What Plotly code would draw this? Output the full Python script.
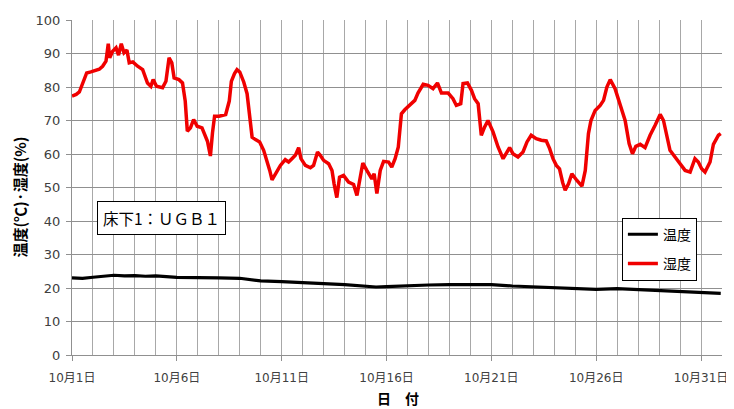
import plotly.graph_objects as go

# Day-of-month positions (Oct 1 00:00 = 1.0)
hum_days = [1.0, 1.2, 1.35, 1.5, 1.7, 1.9, 2.14, 2.3, 2.46, 2.62, 2.68, 2.73, 2.8, 2.94, 3.1, 3.22, 3.35, 3.48,
            3.62, 3.73, 3.9, 4.13, 4.37, 4.6, 4.76, 4.87, 5.03, 5.32, 5.48, 5.58, 5.63, 5.76, 5.87, 6.1, 6.27,
            6.4, 6.5, 6.65, 6.8, 6.97, 7.2, 7.46, 7.6, 7.7, 7.8, 8.02, 8.33, 8.5, 8.6, 8.75, 8.87, 9.0, 9.19,
            9.35, 9.48, 9.59, 9.75, 9.95, 10.14, 10.3, 10.43, 10.54, 10.7, 10.94, 11.17, 11.33, 11.49, 11.65,
            11.81, 11.92, 12.13, 12.37, 12.52, 12.71, 12.84, 13.0, 13.24, 13.4, 13.5, 13.63, 13.76, 13.95,
            14.19, 14.43, 14.59, 14.71, 14.87, 15.06, 15.3, 15.41, 15.54, 15.7, 15.86, 16.1, 16.25, 16.41,
            16.56, 16.65, 16.71, 16.87, 17.11, 17.35, 17.5, 17.75, 17.98, 18.22, 18.43, 18.62, 18.94, 19.17,
            19.33, 19.54, 19.65, 19.86, 20.05, 20.2, 20.37, 20.52, 20.68, 20.84, 21.08, 21.32, 21.56, 21.71,
            21.87, 22.03, 22.27, 22.51, 22.7, 22.9, 23.14, 23.38, 23.62, 23.78, 23.94, 24.1, 24.25, 24.4,
            24.52, 24.68, 24.84, 25.08, 25.32, 25.48, 25.63, 25.75, 25.95, 26.19, 26.35, 26.51, 26.67, 26.9,
            27.14, 27.38, 27.57, 27.73, 27.89, 28.1, 28.33, 28.57, 28.81, 29.05, 29.21, 29.37, 29.52, 29.76,
            30.0, 30.24, 30.48, 30.71, 30.87, 31.03, 31.19, 31.43, 31.59, 31.83, 31.94]
humidity = [77.3, 77.8, 78.5, 80.7, 84.2, 84.5, 85.0, 85.3, 86.2, 87.7, 90.5, 92.9, 88.7, 90.7, 91.7, 89.5, 92.9,
            90.2, 91.0, 87.2, 87.5, 86.2, 85.2, 81.2, 80.2, 82.2, 80.2, 79.8, 81.7, 86.0, 88.7, 87.2, 82.7,
            82.2, 81.2, 75.8, 66.8, 67.8, 70.3, 68.3, 67.8, 63.8, 59.4, 66.3, 71.3, 71.3, 71.8, 75.8, 81.7,
            84.0, 85.2, 84.5, 81.5, 78.0, 71.0, 65.0, 64.3, 63.6, 61.1, 58.1, 55.1, 52.3, 54.1, 56.6, 58.3,
            57.6, 58.6, 59.6, 61.9, 58.6, 56.6, 55.9, 56.6, 60.6, 59.6, 58.1, 57.1, 55.1, 51.1, 47.0, 53.1,
            53.6, 51.6, 50.9, 47.6, 52.1, 57.3, 55.1, 52.6, 54.1, 48.2, 55.1, 57.8, 57.6, 56.1, 58.6, 62.0,
            68.0, 72.0, 73.2, 74.5, 76.0, 78.2, 80.8, 80.5, 79.5, 81.2, 78.2, 78.2, 76.5, 74.5, 75.0, 81.0,
            81.2, 79.0, 76.5, 75.0, 65.6, 68.1, 70.0, 66.6, 62.1, 58.6, 60.1, 61.9, 60.1, 59.1, 60.6, 63.6,
            65.6, 64.6, 64.1, 63.9, 61.6, 58.6, 56.6, 55.6, 51.5, 49.2, 51.1, 54.1, 52.1, 50.4, 55.1, 66.1,
            70.0, 73.0, 74.5, 76.0, 80.0, 82.2, 79.5, 75.0, 70.0, 63.1, 60.1, 62.3, 62.9, 61.9, 65.6, 68.6,
            71.8, 70.0, 65.1, 61.1, 59.1, 57.1, 55.1, 54.6, 58.6, 57.6, 55.6, 54.6, 57.6, 62.9, 65.6, 66.1]

temp_days = [1.0, 1.5, 2.0, 2.5, 3.0, 3.5, 4.0, 4.5, 5.0, 6.0, 7.0, 8.0, 9.0, 9.5, 10.0, 11.0, 12.0, 13.0,
             14.0, 15.0, 15.5, 16.0, 17.0, 18.0, 19.0, 20.0, 21.0, 22.0, 23.0, 24.0, 25.0, 26.0, 27.0, 28.0,
             29.0, 30.0, 31.0, 31.94]
temperature = [23.0, 22.9, 23.2, 23.5, 23.8, 23.6, 23.7, 23.5, 23.6, 23.2, 23.0, 23.0, 22.9, 22.5, 22.1, 21.9,
               21.7, 21.3, 21.0, 20.6, 20.3, 20.4, 20.7, 20.9, 21.0, 21.0, 21.0, 20.6, 20.3, 20.0, 19.7, 19.6,
               19.8, 19.5, 19.2, 18.8, 18.5, 18.4]

x_tick_vals = [1, 6, 11, 16, 21, 26, 31]
x_tick_text = ["10月1日", "10月6日", "10月11日", "10月16日", "10月21日", "10月26日", "10月31日"]
series_names = ["温度", "湿度"]
panel_label = "床下1：ＵＧＢ１"
x_title = "日　付"
y_title = "温度(℃)·湿度(%)"

JP = "Noto Sans CJK JP"
TICKF = "DejaVu Sans, Noto Sans CJK JP"

fig = go.Figure()
fig.add_trace(go.Scatter(x=temp_days, y=temperature, mode="lines", name=series_names[0],
                         line=dict(color="#000000", width=3.2), legendgroup="a"))
fig.add_trace(go.Scatter(x=hum_days, y=humidity, mode="lines", name=series_names[1],
                         line=dict(color="#f00000", width=3.5), legendgroup="b"))

fig.update_layout(
    width=734, height=409,
    margin=dict(l=64, r=20, t=12, b=62, autoexpand=False),
    plot_bgcolor="white", paper_bgcolor="white",
    showlegend=True,
    legend=dict(x=0.846, y=0.41, xanchor="left", yanchor="top",
                bgcolor="white", bordercolor="#000000", borderwidth=1,
                font=dict(family=JP, size=14, color="#000000"),
                tracegroupgap=8, itemwidth=30),
    font=dict(family=TICKF, color="#404040"),
)
fig.update_xaxes(
    range=[1, 32], tickmode="array", tickvals=x_tick_vals, ticktext=x_tick_text,
    tickfont=dict(family=TICKF, size=12, color="#404040"),
    ticks="outside", ticklen=5, tickcolor="#909090", ticklabelstandoff=7,
    showgrid=True, gridcolor="#a8a8a8", gridwidth=1,
    minor=dict(dtick=1, tick0=1, showgrid=True, gridcolor="#a8a8a8", gridwidth=1),
    showline=True, linecolor="#909090", zeroline=False, automargin=False,
)
fig.update_yaxes(
    range=[0, 100], dtick=10,
    tickfont=dict(family=TICKF, size=13, color="#404040"),
    ticks="outside", ticklen=5, tickcolor="#909090", ticklabelstandoff=3,
    showgrid=True, gridcolor="#909090", gridwidth=1,
    showline=True, linecolor="#909090", zeroline=False, automargin=False,
)
fig.add_annotation(
    x=0.5015, y=-0.127, xref="paper", yref="paper", xanchor="center", yanchor="middle",
    text=x_title, showarrow=False,
    font=dict(family=JP, size=14, color="#000000", weight="bold"),
)
fig.add_annotation(
    x=-0.08, y=0.47, xref="paper", yref="paper", xanchor="center", yanchor="middle",
    text=y_title, showarrow=False, textangle=-90,
    font=dict(family=JP, size=15, color="#000000", weight="bold"),
)
fig.add_annotation(
    x=0.038, y=0.41, xref="paper", yref="paper", xanchor="left", yanchor="middle",
    text=panel_label, showarrow=False,
    font=dict(family=JP, size=15.5, color="#000000"),
    bgcolor="white", bordercolor="#000000", borderwidth=1, borderpad=5,
)
fig.write_html("out.html")
